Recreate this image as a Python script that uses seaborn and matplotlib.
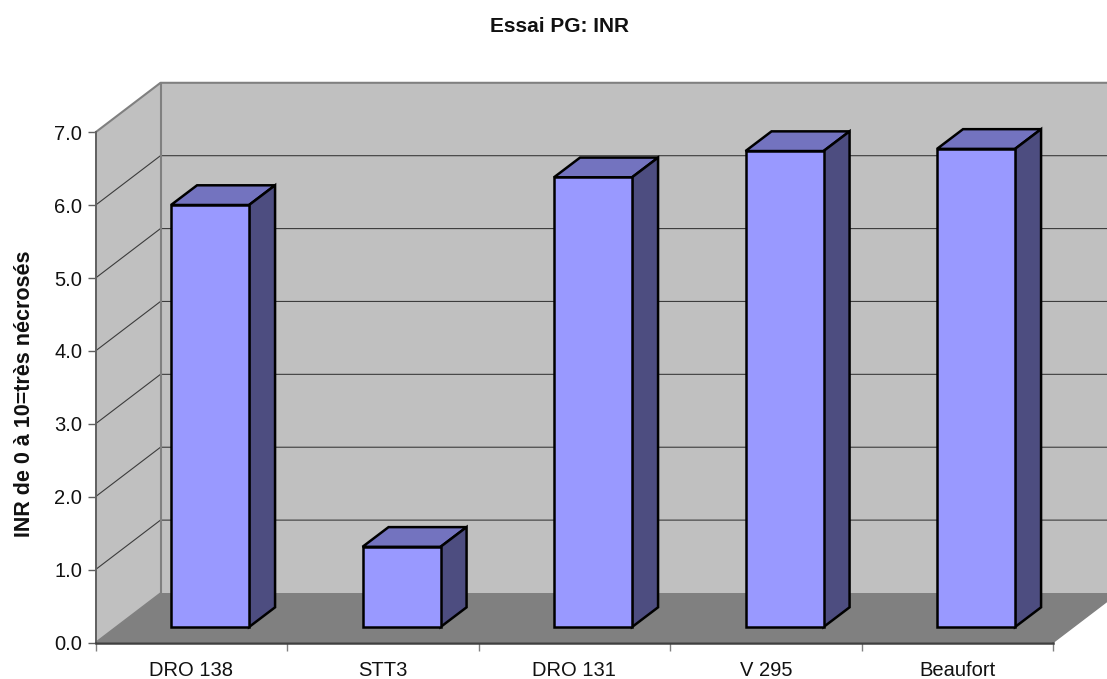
import matplotlib
matplotlib.use("Agg")
import matplotlib.pyplot as plt
import seaborn as sns
from matplotlib.patches import Polygon

categories = ["DRO 138", "STT3", "DRO 131", "V 295", "Beaufort"]
inr_values = [5.79, 1.10, 6.17, 6.53, 6.56]
y_ticks = [0, 1, 2, 3, 4, 5, 6, 7]

sns.set_theme(style="white")
plt.rcParams['font.family'] = ['Liberation Sans', 'DejaVu Sans']

W, H = 1107, 679
fig = plt.figure(figsize=(W / 100, H / 100), dpi=100)
ax = fig.add_axes([95.5 / W, (H - 642.5) / H, 957.5 / W, 510.2 / H])

sns.barplot(x=categories, y=inr_values, color="#9999ff", saturation=1, width=0.4075,
            edgecolor="black", linewidth=1.8, ax=ax, zorder=5)
ax.set_xlim(-0.5, 4.5)
ax.set_ylim(0, 7)

# pixels -> data units, for the fake 3d depth
px_x = 5 / 957.5
px_y = 7 / 510.2
wall_dx, wall_dy = 65 * px_x, 49.5 * px_y
bar_dx, bar_dy = 18.8 * px_x, 15.5 * px_y
depth_dx, depth_dy = 26 * px_x, 19.7 * px_y

x0, x1 = ax.get_xlim()
y0, y1 = ax.get_ylim()


def face(points, fc, ec="none", lw=0, z=1):
    ax.add_patch(Polygon(points, closed=True, facecolor=fc, edgecolor=ec, linewidth=lw,
                         clip_on=False, zorder=z, joinstyle="miter"))


# walls and floor
face([(x0 + wall_dx, y0 + wall_dy), (x1 + wall_dx, y0 + wall_dy),
      (x1 + wall_dx, y1 + wall_dy), (x0 + wall_dx, y1 + wall_dy)], "#c0c0c0")
face([(x0, y0), (x0 + wall_dx, y0 + wall_dy), (x0 + wall_dx, y1 + wall_dy), (x0, y1)], "#c0c0c0")
face([(x0, y0), (x1, y0), (x1 + wall_dx, y0 + wall_dy), (x0 + wall_dx, y0 + wall_dy)], "#808080", z=1.5)

# gridlines
for t in y_ticks[1:-1]:
    ax.plot([x0, x0 + wall_dx, x1 + wall_dx], [t, t + wall_dy, t + wall_dy], color="#3c3c3c",
            linewidth=0.8, clip_on=False, zorder=2)
ax.plot([x0, x0 + wall_dx, x1 + wall_dx], [y1, y1 + wall_dy, y1 + wall_dy], color="#808080",
        linewidth=1.5, clip_on=False, zorder=2)
ax.plot([x0 + wall_dx, x0 + wall_dx], [y0 + wall_dy, y1 + wall_dy], color="#808080",
        linewidth=1.5, clip_on=False, zorder=2)
ax.plot([x0, x0 + wall_dx], [y0, y0 + wall_dy], color="#808080", linewidth=1, clip_on=False, zorder=2)
ax.plot([x1, x1 + wall_dx], [y0, y0 + wall_dy], color="#808080", linewidth=1, clip_on=False, zorder=2)

# shift the front faces into the room, then add top and side faces
for rect in ax.patches[:len(categories)]:
    rect.set_x(rect.get_x() + bar_dx)
    rect.set_y(rect.get_y() + bar_dy)
    rect.set_clip_on(False)
    rect.set_joinstyle("miter")
    left = rect.get_x()
    right = left + rect.get_width()
    bottom = rect.get_y()
    top = bottom + rect.get_height()
    face([(left, top), (right, top), (right + depth_dx, top + depth_dy), (left + depth_dx, top + depth_dy)],
         "#7373bf", "black", 1.8, 4)
    face([(right, bottom), (right + depth_dx, bottom + depth_dy), (right + depth_dx, top + depth_dy), (right, top)],
         "#4d4d80", "black", 1.8, 4)

ax.set_yticks(y_ticks)
ax.set_yticklabels([f"{t:.1f}" for t in y_ticks])
ax.set_xticks([-0.5, 0.5, 1.5, 2.5, 3.5, 4.5], minor=False)
ax.set_xticklabels([])
ax.set_xticks(range(len(categories)), labels=categories, minor=True)
ax.tick_params(axis="x", which="major", direction="out", length=6, width=1, color="#808080", bottom=True)
ax.tick_params(axis="x", which="minor", length=0, pad=13, labelsize=14.5, labelcolor="#111111", bottom=False)
ax.tick_params(axis="y", direction="out", length=6, width=1, color="#606060", left=True, pad=3.5,
               labelsize=14.5, labelcolor="#111111")

for side in ["top", "right"]:
    ax.spines[side].set_visible(False)
ax.spines["left"].set_color("#606060")
ax.spines["left"].set_linewidth(1.4)
ax.spines["bottom"].set_color("#404040")
ax.spines["bottom"].set_linewidth(1.8)
ax.spines["left"].set_zorder(3)
ax.spines["bottom"].set_zorder(3)

ax.set_xlabel("")
ax.set_ylabel("INR de 0 à 10=très nécrosés", fontsize=15.5, fontweight="bold", color="#111111", va="center")
ax.yaxis.set_label_coords((24 - 95.5) / 957.5, (642.5 - 394) / 510.2)
fig.text(560 / W, 1 - 26 / H, "Essai PG: INR", ha="center", va="center", fontsize=15,
         fontweight="bold", color="#111111")

fig.savefig("out.png", dpi=100)
